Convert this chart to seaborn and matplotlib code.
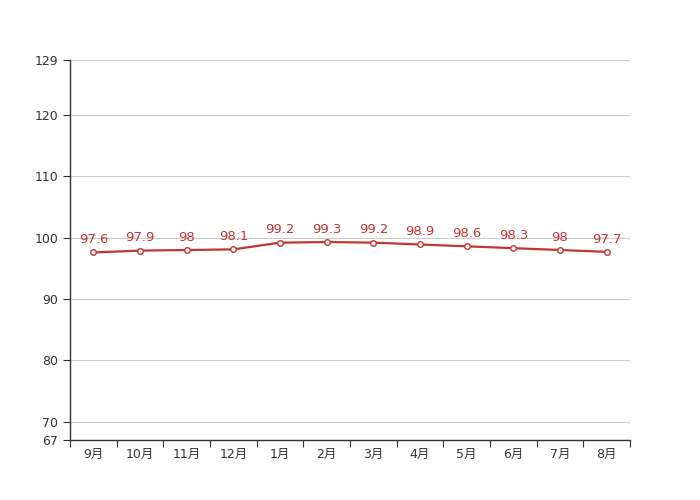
import matplotlib
matplotlib.use('Agg')
import matplotlib.pyplot as plt
import seaborn as sns
import pandas as pd
import numpy as np

months = ['9月', '10月', '11月', '12月', '1月', '2月', '3月', '4月', '5月', '6月', '7月', '8月']
values = [97.6, 97.9, 98, 98.1, 99.2, 99.3, 99.2, 98.9, 98.6, 98.3, 98, 97.7]
y_ticks = [67, 70, 80, 90, 100, 110, 120, 129]

LINE_COLOR = '#c23531'

sns.set_style('white')
plt.rcParams['font.family'] = ['DejaVu Sans', 'Noto Sans CJK SC']

df = pd.DataFrame({'month': months, 'value': values})
df['pos'] = np.arange(len(months))

fig = plt.figure(figsize=(7, 5), dpi=100)
ax = fig.add_axes([0.1, 0.12, 0.8, 0.76])

sns.lineplot(data=df, x='pos', y='value', ax=ax, color=LINE_COLOR, linewidth=1.6,
             marker='o', markersize=4, markerfacecolor='white', markeredgecolor=LINE_COLOR,
             markeredgewidth=1, zorder=3)

for _, row in df.iterrows():
    label = f"{row['value']:g}"
    ax.annotate(label, (row['pos'], row['value']), xytext=(0, 4.5), textcoords='offset points',
                ha='center', va='bottom', color=LINE_COLOR, fontsize=9.5)

ax.set_xlim(-0.5, len(months) - 0.5)
ax.set_ylim(y_ticks[0], y_ticks[-1])
ax.set_yticks(y_ticks)
ax.set_xticks(np.arange(len(months) + 1) - 0.5)
ax.set_xticklabels([])
ax.set_xticks(df['pos'], minor=True)
ax.set_xticklabels(months, minor=True)
ax.tick_params(axis='x', which='major', length=5, color='#333333', direction='out', bottom=True)
ax.tick_params(axis='x', which='minor', length=0, pad=6, labelsize=9, labelcolor='#333333')
ax.tick_params(axis='y', length=5, color='#333333', direction='out', left=True,
               labelsize=9, labelcolor='#333333')

ax.grid(axis='y', color='#cccccc', linewidth=0.8)
ax.grid(axis='x', visible=False)
ax.set_axisbelow(True)
for side in ['top', 'right']:
    ax.spines[side].set_visible(False)
for side in ['left', 'bottom']:
    ax.spines[side].set_color('#333333')
    ax.spines[side].set_linewidth(1)

ax.set_xlabel('')
ax.set_ylabel('')

fig.savefig('out.png', dpi=100)
